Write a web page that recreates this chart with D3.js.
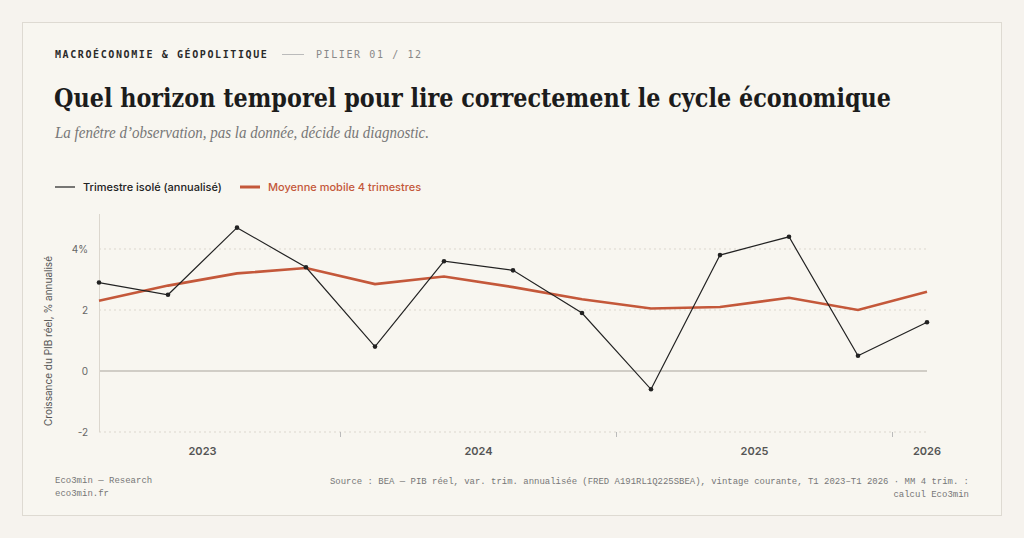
<!DOCTYPE html>
<html><head><meta charset="utf-8">
<script src="https://cdn.jsdelivr.net/npm/d3@7"></script>
<style>
body{margin:0;background:#f6f3ee;}
</style></head><body>
<script>
const quarters = ["T1 2023","T2 2023","T3 2023","T4 2023","T1 2024","T2 2024","T3 2024","T4 2024","T1 2025","T2 2025","T3 2025","T4 2025","T1 2026"];
const growth = [2.9, 2.5, 4.7, 3.4, 0.8, 3.6, 3.3, 1.9, -0.6, 3.8, 4.4, 0.5, 1.6];
const movingAvg = [2.3, 2.8, 3.2, 3.375, 2.85, 3.1, 2.75, 2.35, 2.05, 2.1, 2.4, 2.0, 2.6];
const yTicks = [-2, 0, 2, 4];
const years = [{label:"2023", from:0, to:3}, {label:"2024", from:4, to:7}, {label:"2025", from:8, to:11}, {label:"2026", from:12, to:12}];

const W = 1024, H = 538;
const svg = d3.select("body").append("svg").attr("width", W).attr("height", H);
svg.append("rect").attr("x",0).attr("y",0).attr("width",W).attr("height",H).attr("fill","#f6f3ee");
svg.append("rect").attr("x",22.5).attr("y",22.5).attr("width",979).attr("height",493)
  .attr("fill","#f8f6f0").attr("stroke","#dedad2");

const mono = "'DejaVu Sans Mono', 'Liberation Mono', monospace";
const sans = "Inter, 'Noto Sans', sans-serif";

svg.append("text").attr("x",55).attr("y",58).attr("font-family",mono).attr("font-size",10)
  .attr("font-weight","bold").attr("letter-spacing",1.6).attr("fill","#2a2a2a").text("MACROÉCONOMIE & GÉOPOLITIQUE");
svg.append("line").attr("x1",282).attr("x2",304).attr("y1",54.5).attr("y2",54.5).attr("stroke","#bbb");
svg.append("text").attr("x",316).attr("y",58).attr("font-family",mono).attr("font-size",10)
  .attr("letter-spacing",1.6).attr("fill","#888").text("PILIER 01 / 12");
svg.append("text").attr("x",54).attr("y",107).attr("font-family","'DejaVu Serif', serif").attr("font-size",26.5)
  .attr("font-weight","600").attr("fill","#1c1c1c").attr("textLength",837).attr("lengthAdjust","spacingAndGlyphs")
  .text("Quel horizon temporel pour lire correctement le cycle économique");
svg.append("text").attr("x",55).attr("y",138).attr("font-family","'Liberation Serif', serif").attr("font-size",16.5)
  .attr("font-style","italic").attr("fill","#777").attr("textLength",374).attr("lengthAdjust","spacingAndGlyphs")
  .text("La fenêtre d’observation, pas la donnée, décide du diagnostic.");

// legend
svg.append("line").attr("x1",55).attr("x2",75).attr("y1",187).attr("y2",187).attr("stroke","#222").attr("stroke-width",1.2);
svg.append("text").attr("x",83).attr("y",191).attr("font-family",sans).attr("font-size",11).attr("font-weight",500).attr("fill","#222").text("Trimestre isolé (annualisé)");
svg.append("line").attr("x1",240).attr("x2",260).attr("y1",187).attr("y2",187).attr("stroke","#c4583a").attr("stroke-width",3);
svg.append("text").attr("x",268).attr("y",191).attr("font-family",sans).attr("font-size",11).attr("font-weight",500).attr("fill","#c4583a").text("Moyenne mobile 4 trimestres");

const x = d3.scaleLinear().domain([0, 12]).range([99, 927]);
const y = d3.scaleLinear().domain([-2, 4]).range([432, 249]);

yTicks.forEach(t => {
  svg.append("line").attr("x1",99).attr("x2",927).attr("y1",y(t)).attr("y2",y(t))
    .attr("stroke", t === 0 ? "#a9a49c" : "#dcd7ce")
    .attr("stroke-dasharray", t === 0 ? null : "2,3");
  svg.append("text").attr("x",88).attr("y",y(t)+4).attr("text-anchor","end")
    .attr("font-family",sans).attr("font-size",10).attr("fill","#666").text(t === 4 ? "4%" : t);
});
svg.append("line").attr("x1",99.5).attr("x2",99.5).attr("y1",214).attr("y2",432).attr("stroke","#dcd7ce");

svg.append("text").attr("transform","translate(52,341) rotate(-90)").attr("text-anchor","middle")
  .attr("font-family",sans).attr("font-size",10).attr("fill","#555").text("Croissance du PIB réel, % annualisé");

years.forEach((yr, i) => {
  svg.append("text").attr("x", x((yr.from + yr.to) / 2)).attr("y", 455).attr("text-anchor","middle")
    .attr("font-family",sans).attr("font-size",11).attr("font-weight",600).attr("fill","#555").text(yr.label);
  if (i > 0) {
    const bx = x(yr.from - 0.5);
    svg.append("line").attr("x1",bx).attr("x2",bx).attr("y1",432).attr("y2",437).attr("stroke","#bbb");
  }
});

const line = d3.line().x((d, i) => x(i)).y(d => y(d));
svg.append("path").attr("d", line(movingAvg)).attr("fill","none").attr("stroke","#c4583a").attr("stroke-width",2.6);
svg.append("path").attr("d", line(growth)).attr("fill","none").attr("stroke","#222").attr("stroke-width",1.2);
svg.selectAll("circle.pt").data(growth).enter().append("circle").attr("class","pt")
  .attr("cx",(d,i)=>x(i)).attr("cy",d=>y(d)).attr("r",2.3).attr("fill","#222");

const footMono = "'Liberation Mono', 'DejaVu Sans Mono', monospace";
svg.append("text").attr("x",55).attr("y",483).attr("font-family",footMono).attr("font-size",9).attr("fill","#777").text("Eco3min — Research");
svg.append("text").attr("x",55).attr("y",496).attr("font-family",footMono).attr("font-size",9).attr("fill","#777").text("eco3min.fr");
svg.append("text").attr("x",969).attr("y",484).attr("text-anchor","end").attr("font-family",footMono).attr("font-size",9).attr("fill","#777")
  .attr("textLength",639).attr("lengthAdjust","spacingAndGlyphs")
  .text("Source : BEA — PIB réel, var. trim. annualisée (FRED A191RL1Q225SBEA), vintage courante, T1 2023–T1 2026 · MM 4 trim. :");
svg.append("text").attr("x",969).attr("y",497).attr("text-anchor","end").attr("font-family",footMono).attr("font-size",9).attr("fill","#777").text("calcul Eco3min");
</script>
</body></html>
